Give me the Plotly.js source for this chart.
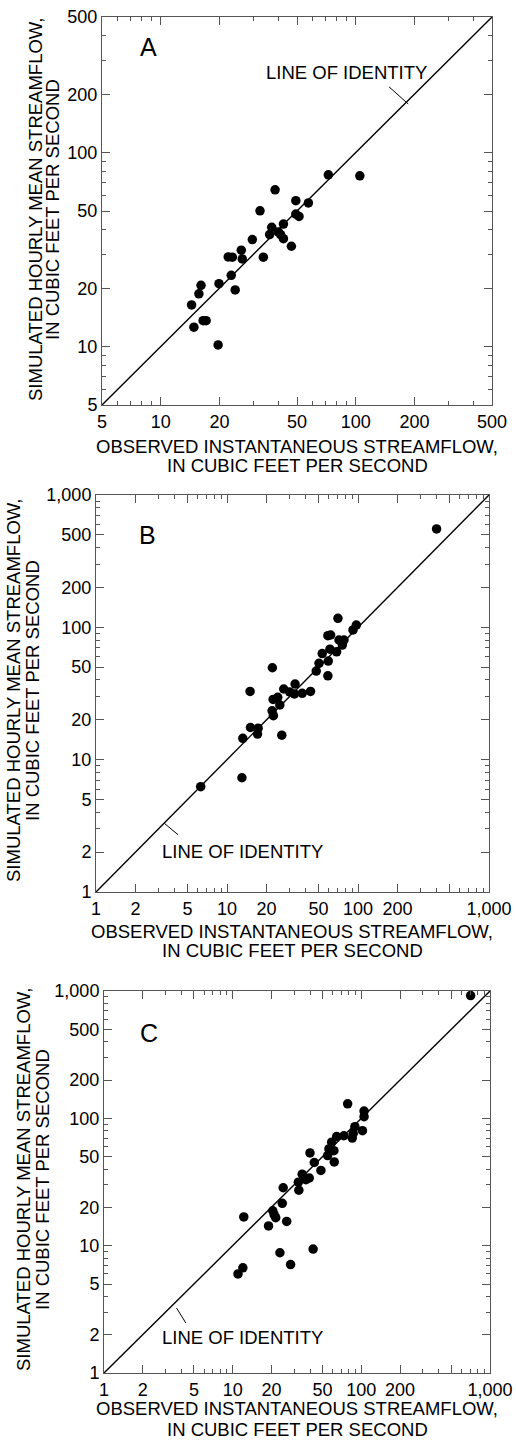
<!DOCTYPE html>
<html><head><meta charset="utf-8">
<script src="https://cdn.plot.ly/plotly-3.0.1.min.js"></script>
<style>html,body{margin:0;padding:0;background:#fff}#chart{width:516px;height:1443px}</style>
</head><body><div id="chart"></div>
<script>
// ---- Panel A data ----
const obsA = [14.4,14.8,15.7,16.1,16.5,17.1,19.7,19.9,22.2,23.3,23.0,24.1,25.9,26.2,29.5,32.3,33.6,36.2,37.1,38.6,40.1,41.2,42.6,42.6,46.8,49.3,49.3,51.2,57.2,72.4,105];
const simA = [16.4,12.6,18.7,20.7,13.6,13.6,10.2,21.1,29.0,28.9,23.3,19.6,31.4,28.3,35.6,50.1,28.9,37.8,41.2,64.3,39.0,37.8,42.8,36.0,32.9,56.5,48.2,46.9,55.0,76.8,75.9];
const identityA = [5, 500];
// ---- Panel B data ----
const obsB = [6.3,13.0,13.2,15.0,15.1,17.3,17.1,22.2,22.1,22.6,22.5,24.4,25.3,26.2,27.1,30.1,32.7,33.1,37.5,43.4,48.0,50.4,53.3,58.9,59.3,58.9,61.8,61.1,68.7,70.3,71.6,75.9,78.2,91.6,97.1,398];
const simB = [6.25,7.3,14.5,32.8,17.5,17.3,15.6,49.5,23.4,21.5,28.5,29.6,25.9,15.3,34.2,32.5,31.4,37.3,31.7,32.8,46.7,53.5,63.3,43.0,55.6,86.5,87.5,68.4,65.3,117,80.2,73.4,80.2,95.5,104,554];
const identityB = [1, 1000];
// ---- Panel C data ----
const obsC = [11.0,12.0,12.2,19.0,20.5,21.6,21.0,23.3,24.3,24.7,26.3,28.2,32.4,32.7,34.7,37.1,39.4,39.9,42.2,43.1,48.5,54.7,56.0,58.8,61.2,61.6,64.3,73.2,78.3,85.0,86.5,89.1,102,105,105,707];
const simC = [6.0,6.7,16.8,14.3,18.8,16.6,17.5,8.8,21.5,28.5,15.5,7.1,31.5,27.3,36.4,33.0,34.0,53.5,9.4,45.0,39.0,51.0,57.5,65.0,55.7,45.5,72.0,73.0,130,70.0,76.0,86.0,80.0,114,103,920];
const identityC = [1, 1000];

// ---- Tick labels ----
const tickValsA = [5,10,20,50,100,200,500];
const tickTextA = ['5','10','20','50','100','200','500'];
const minorValsA = [6,7,8,9,30,40,60,70,80,90,300,400];
const tickValsBC = [1,2,5,10,20,50,100,200,500,1000];
const tickTextBCx = ['1','2','5','10','20','50','100','200','','1,000'];
const tickTextBCy = ['1','2','5','10','20','50','100','200','500','1,000'];
const minorValsBC = [3,4,6,7,8,9,30,40,60,70,80,90,300,400,600,700,800,900];

const panelLetters = ['A','B','C'];
const identityLabel = 'LINE OF IDENTITY';
const xTitle = ['OBSERVED INSTANTANEOUS STREAMFLOW,', 'IN CUBIC FEET PER SECOND'];
const yTitle = ['SIMULATED HOURLY MEAN STREAMFLOW,', 'IN CUBIC FEET PER SECOND'];

const W = 516, H = 1443;
const FONT = 'Liberation Sans, Arial, Helvetica, sans-serif';
const AX = '#555';
const TXT = 18.5;

function axis(domain, rng, tv, tt, minor, anchor) {
  return {
    type: 'log', domain: domain, anchor: anchor,
    range: [Math.log10(rng[0]), Math.log10(rng[1])],
    tickmode: 'array', tickvals: tv, ticktext: tt,
    ticks: 'inside', ticklen: 8, tickwidth: 1, tickcolor: AX,
    showline: true, linecolor: AX, linewidth: 1, mirror: 'allticks',
    showgrid: false, zeroline: false, automargin: false,
    tickfont: {family: FONT, size: 18, color: '#000'},
    minor: {tickmode: 'array', tickvals: minor, ticks: 'inside', ticklen: 4, tickwidth: 1, tickcolor: AX, showgrid: false},
    fixedrange: true
  };
}

const boxes = [
  {l:102, r:492, t:17, b:405},
  {l:96, r:489, t:495, b:892},
  {l:104, r:490, t:991, b:1373}
];
const xd = b => [b.l / W, b.r / W];
const yd = b => [1 - b.b / H, 1 - b.t / H];

const layout = {
  width: W, height: H,
  margin: {l:0, r:0, t:0, b:0},
  paper_bgcolor: '#fff', plot_bgcolor: '#fff',
  showlegend: false,
  font: {family: FONT, color: '#000'},
  xaxis: axis(xd(boxes[0]), identityA, tickValsA, tickTextA, minorValsA, 'y'),
  yaxis: axis(yd(boxes[0]), identityA, tickValsA, tickTextA, minorValsA, 'x'),
  xaxis2: axis(xd(boxes[1]), identityB, tickValsBC, tickTextBCx, minorValsBC, 'y2'),
  yaxis2: axis(yd(boxes[1]), identityB, tickValsBC, tickTextBCy, minorValsBC, 'x2'),
  xaxis3: axis(xd(boxes[2]), identityC, tickValsBC, tickTextBCx, minorValsBC, 'y3'),
  yaxis3: axis(yd(boxes[2]), identityC, tickValsBC, tickTextBCy, minorValsBC, 'x3'),
  annotations: [], shapes: []
};

const refs = [['x','y'],['x2','y2'],['x3','y3']];
const leaders = [
  {x0:0.736, y0:0.820, x1:0.785, y1:0.776, tx:0.628, ty:0.856},
  {x0:0.174, y0:0.173, x1:0.209, y1:0.144, tx:0.374, ty:0.102},
  {x0:0.188, y0:0.170, x1:0.212, y1:0.131, tx:0.358, ty:0.092}
];
const letterPos = [[0.118,0.923],[0.132,0.899],[0.117,0.890]];

refs.forEach((r, i) => {
  const L = leaders[i];
  layout.shapes.push({type:'line', xref: r[0]+' domain', yref: r[1]+' domain',
    x0:L.x0, y0:L.y0, x1:L.x1, y1:L.y1, line:{color:'#000', width:1}});
  layout.annotations.push({xref: r[0]+' domain', yref: r[1]+' domain', x:L.tx, y:L.ty,
    text: identityLabel, showarrow:false, xanchor:'center', yanchor:'middle',
    font:{family:FONT, size:TXT, color:'#000'}});
  layout.annotations.push({xref: r[0]+' domain', yref: r[1]+' domain', x:letterPos[i][0], y:letterPos[i][1],
    text: panelLetters[i], showarrow:false, xanchor:'center', yanchor:'middle',
    font:{family:FONT, size:25, color:'#000'}});
});

const yTitlePos = [[35,52,210],[13,32,691],[23,42,1180]];
const xTitlePos = [[297,446,465],[292,931,950],[297,1408,1429]];
function paperAnn(px, py, text, angle) {
  return {xref:'paper', yref:'paper', x: px / W, y: 1 - py / H, text: text, showarrow:false,
    xanchor:'center', yanchor:'middle', textangle: angle || 0,
    font:{family:FONT, size:TXT, color:'#000'}};
}
yTitlePos.forEach(p => {
  layout.annotations.push(paperAnn(p[0], p[2], yTitle[0], -90));
  layout.annotations.push(paperAnn(p[1], p[2], yTitle[1], -90));
});
xTitlePos.forEach(p => {
  layout.annotations.push(paperAnn(p[0], p[1], xTitle[0]));
  layout.annotations.push(paperAnn(p[0], p[2], xTitle[1]));
});

const sets = [[obsA, simA, identityA], [obsB, simB, identityB], [obsC, simC, identityC]];
const data = [];
sets.forEach((s, i) => {
  data.push({x: s[2], y: s[2], xaxis: refs[i][0], yaxis: refs[i][1], type:'scatter', mode:'lines',
    line:{color:'#000', width:1.4}, hoverinfo:'skip'});
  data.push({x: s[0], y: s[1], xaxis: refs[i][0], yaxis: refs[i][1], type:'scatter', mode:'markers',
    marker:{color:'#000', size:9.5, line:{width:0}}, cliponaxis:false});
});

Plotly.newPlot('chart', data, layout, {staticPlot:true, displayModeBar:false});
</script>
</body></html>
